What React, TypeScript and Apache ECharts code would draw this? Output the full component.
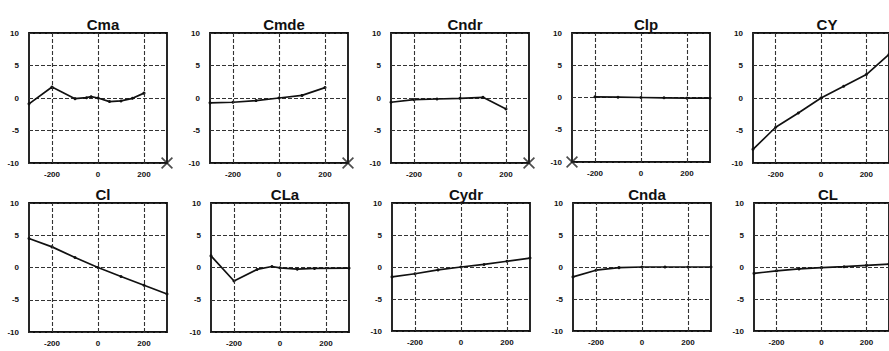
import React, { useEffect, useRef } from 'react';
import * as echarts from 'echarts';

const titles = ['Cma', 'Cmde', 'Cndr', 'Clp', 'CY', 'Cl', 'CLa', 'Cydr', 'Cnda', 'CL'];

const cmaX = [-300, -200, -100, -50, -30, 0, 50, 100, 150, 200];
const cmaY = [-0.9, 1.7, -0.1, 0.05, 0.2, 0, -0.55, -0.45, -0.05, 0.75];
const cmdeX = [-300, -200, -100, 0, 100, 200];
const cmdeY = [-0.75, -0.65, -0.4, 0, 0.4, 1.6];
const cndrX = [-300, -200, -100, 0, 100, 200];
const cndrY = [-0.65, -0.25, -0.15, -0.05, 0.1, -1.7];
const clpX = [-200, -100, 0, 100, 200, 300];
const clpY = [0.1, 0.05, 0, -0.05, -0.1, -0.1];
const cyX = [-300, -200, -100, 0, 100, 200, 300];
const cyY = [-7.9, -4.5, -2.3, 0, 1.8, 3.6, 6.7];
const clX = [-300, -200, -100, 0, 100, 200, 300];
const clY = [4.5, 3.2, 1.55, 0, -1.4, -2.75, -4.1];
const claX = [-300, -200, -100, -35, 0, 75, 150, 300];
const claY = [1.8, -2.1, -0.3, 0.15, -0.05, -0.25, -0.15, -0.1];
const cydrX = [-300, -200, -100, 0, 100, 200, 300];
const cydrY = [-1.55, -1.05, -0.45, 0, 0.4, 0.9, 1.4];
const cndaX = [-300, -200, -100, 0, 100, 200, 300];
const cndaY = [-1.55, -0.5, -0.1, 0, 0, 0, 0];
const cLX = [-300, -200, -100, 0, 100, 200, 300];
const cLY = [-1.0, -0.6, -0.3, -0.1, 0.05, 0.25, 0.45];

const seriesX = [cmaX, cmdeX, cndrX, clpX, cyX, clX, claX, cydrX, cndaX, cLX];
const seriesY = [cmaY, cmdeY, cndrY, clpY, cyY, clY, claY, cydrY, cndaY, cLY];

// cross markers (panel index, x, y)
const crossPanels = [0, 1, 2, 3];
const crossX = [300, 300, 300, -300];
const crossY = [-10, -10, -10, -10];

const xTicks = [-200, 0, 200];

const gridLefts = [29, 210, 391, 572, 753, 29, 211, 392, 573, 754];
const gridTops = [33, 33, 33, 33, 33, 203, 203, 203, 203, 203];
const gridW = 138;
const gridH = [130, 130, 130, 129, 130, 129, 129, 128, 128, 128];

const FONT = '"Liberation Sans", Arial, sans-serif';

export default function App() {
  const ref = useRef<HTMLDivElement>(null);
  useEffect(() => {
    if (!ref.current) return;
    const chart = echarts.init(ref.current, undefined, { renderer: 'svg' });
    const grids: any[] = [];
    const xAxes: any[] = [];
    const yAxes: any[] = [];
    const series: any[] = [];
    const title: any[] = [];
    titles.forEach((t, i) => {
      grids.push({
        left: gridLefts[i],
        top: gridTops[i],
        width: gridW,
        height: gridH[i],
        show: true,
        borderColor: '#111',
        borderWidth: 1.8,
        backgroundColor: '#fff',
        containLabel: false,
      });
      xAxes.push({
        type: 'value',
        gridIndex: i,
        min: -300,
        max: 300,
        interval: 100,
        axisLine: { show: false },
        axisTick: { show: false },
        splitLine: { show: false },
        axisLabel: {
          margin: 7,
          fontSize: 8,
          fontWeight: 'bold',
          fontFamily: FONT,
          color: '#111',
          showMinLabel: false,
          showMaxLabel: false,
          formatter: (v: number) => (xTicks.indexOf(v) >= 0 ? String(v) : ''),
        },
      });
      yAxes.push({
        type: 'value',
        gridIndex: i,
        min: -10,
        max: 10,
        interval: 5,
        axisLine: { show: false },
        axisTick: { show: false },
        splitLine: { show: true, lineStyle: { type: [4, 2], color: '#333', width: 1.1 } },
        axisLabel: {
          margin: 10,
          fontSize: 8,
          fontWeight: 'bold',
          fontFamily: FONT,
          color: '#111',
        },
      });
      series.push({
        type: 'line',
        xAxisIndex: i,
        yAxisIndex: i,
        data: seriesX[i].map((x, k) => [x, seriesY[i][k]]),
        symbol: 'circle',
        symbolSize: 3,
        itemStyle: { color: '#111' },
        lineStyle: { color: '#111', width: 1.7 },
        markLine: {
          silent: true,
          symbol: ['none', 'none'],
          label: { show: false },
          lineStyle: { type: [4, 2], color: '#333', width: 1.1 },
          data: xTicks.map((v) => ({ xAxis: v })),
        },
        z: 3,
      });
      title.push({
        text: t,
        left: gridLefts[i] + gridW / 2,
        top: gridTops[i] - 21,
        textAlign: 'center',
        textStyle: { fontSize: 15, fontWeight: 'bold', fontFamily: FONT, color: '#111' },
      });
    });
    crossPanels.forEach((p, k) => {
      series.push({
        type: 'scatter',
        xAxisIndex: p,
        yAxisIndex: p,
        data: [[crossX[k], crossY[k]]],
        symbol: 'path://M0,1L1,0L5,4L9,0L10,1L6,5L10,9L9,10L5,6L1,10L0,9L4,5Z',
        symbolSize: 12,
        itemStyle: { color: '#222' },
        clip: false,
        z: 5,
      });
    });
    chart.setOption({
      animation: false,
      backgroundColor: '#fff',
      title,
      grid: grids,
      xAxis: xAxes,
      yAxis: yAxes,
      series,
    });
    return () => chart.dispose();
  }, []);
  return (
    <div
      ref={ref}
      style={{ position: 'fixed', left: 0, top: 0, width: 889, height: 351 }}
    />
  );
}
